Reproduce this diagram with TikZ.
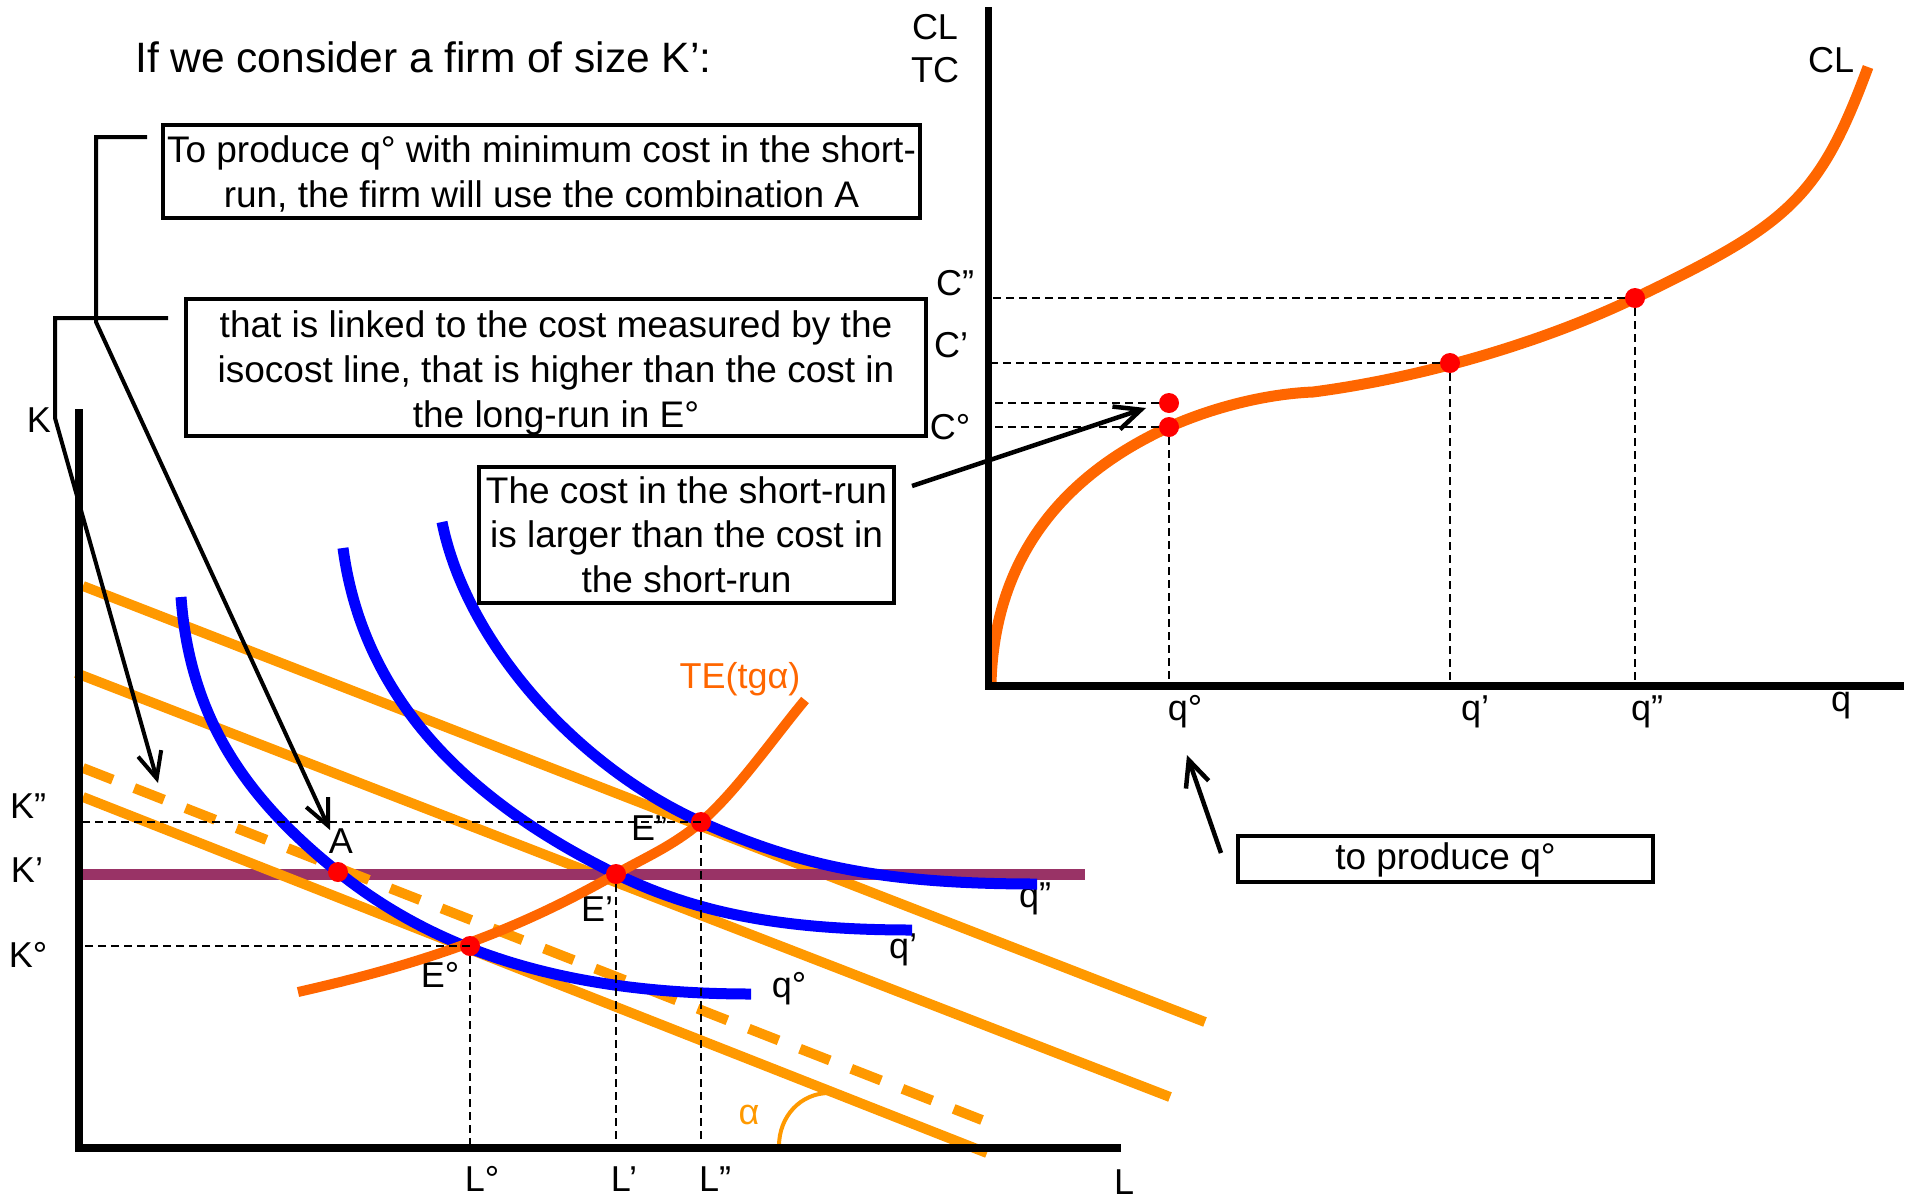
\documentclass[tikz,border=0pt]{standalone}
\usepackage{fontspec}
\setmainfont{Liberation Sans}
\usetikzlibrary{arrows.meta}
\definecolor{isoorange}{HTML}{FF9900}
\definecolor{teorange}{HTML}{FF6600}
\definecolor{isoblue}{HTML}{0000FF}
\definecolor{kpurple}{HTML}{993366}
\definecolor{dotred}{HTML}{FF0000}
\begin{document}
\begin{tikzpicture}[x=1pt,y=-1pt,
  lbl/.style={inner sep=0pt, font=\fontsize{36}{43}\selectfont},
  boxtxt/.style={inner sep=0pt, anchor=base, font=\fontsize{37}{45}\selectfont},
  textbox/.style={draw, line width=4.5pt, inner sep=0pt, rectangle},
  dot/.style={circle, fill=dotred, minimum size=20pt, inner sep=0pt},
  guide/.style={line width=2pt, dash pattern=on 8pt off 5pt},
  isocost/.style={line width=10pt, isoorange},
  isoquant/.style={line width=11pt, isoblue},
  axisline/.style={line width=8pt},
  ptr/.style={line width=4pt, -{Straight Barb[length=26pt,width=24pt]}},
  bracket/.style={line width=4pt}
]
\useasboundingbox (0,0) rectangle (1908,1202);

% ---------- coordinates of axes origins ----------
\coordinate (Lorig) at (79,1148);
\coordinate (Rorig) at (988,686);

% ---------- labels (under the curves) ----------
\node[inner sep=0pt, anchor=base west, font=\fontsize{42.5}{50}\selectfont] (title) at (135,72) {If we consider a firm of size K’:};
\node[lbl] (lK) at (39,420) {K};
\node[lbl] (lKpp) at (28,806) {K”};
\node[lbl] (lKp) at (27,870) {K’};
\node[lbl] (lK0) at (28,955) {K°};
\node[lbl] (lL0) at (482,1179) {L°};
\node[lbl] (lLp) at (624,1179) {L’};
\node[lbl] (lLpp) at (715,1179) {L”};
\node[lbl] (lL) at (1124,1182) {L};
\node[lbl] (lA) at (341,841) {A};
\node[lbl] (lE2) at (649,828) {E”};
\node[lbl] (lE1) at (597,909) {E’};
\node[lbl] (lE0) at (440,975) {E°};
\node[lbl] (lq0) at (789,989) {q°};
\node[lbl] (lq1) at (903,950) {q’};
\node[lbl] (lq2) at (1035,899) {q”};
\node[lbl, text=teorange] (lTE) at (740,679) {TE(tgα)};
\node[lbl, text=isoorange] (lalpha) at (749,1115) {α};

\node[lbl] (lCL) at (935,27) {CL};
\node[lbl] (lTC) at (935,70) {TC};
\node[lbl] (lCLc) at (1831,60) {CL};
\node[lbl] (lCpp) at (955,283) {C”};
\node[lbl] (lCp) at (951,345) {C’};
\node[lbl] (lC0) at (950,427) {C°};
\node[lbl] (lrq0) at (1185,712) {q°};
\node[lbl] (lrq1) at (1475,712) {q’};
\node[lbl] (lrq2) at (1647,712) {q”};
\node[lbl] (lrq) at (1841,706) {q};

% ---------- left graph: isocost lines ----------
\draw[isocost] (83,586) -- (1205,1022);
\draw[isocost] (76,673) -- (1170,1097);
\draw[line width=11pt, kpurple] (79,874) -- (1085,874);
\draw[isocost] (83,797) -- (987,1153);
\draw[isocost, dash pattern=on 32pt off 23pt] (83,768) -- (982,1120);
\draw[line width=4pt, isoorange] (779,1146) .. controls (779,1116) and (801,1093) .. (829,1093);

% ---------- isoquants ----------
\draw[isoquant] (181,597) .. controls (190,720) and (248,800) .. (338,872)
                .. controls (428,944) and (551,994) .. (751,994);
\draw[isoquant] (343,548) .. controls (363,698) and (466,800.5) .. (616,874)
                .. controls (696,913) and (782,930) .. (912,930);
\draw[isoquant] (442,522) .. controls (466,642) and (576,766) .. (701,822)
                .. controls (801,867) and (887,884) .. (1037,884);

% ---------- expansion path ----------
\draw[line width=10pt, teorange] (298,992) .. controls (408,967) and (506,937) .. (616,874)
      .. controls (644,858) and (673,846) .. (701,822)
      .. controls (736,792) and (775,736) .. (805,700);

% ---------- left axes ----------
\draw[axisline] (79,409) -- (79,1152);
\draw[axisline] (75,1148) -- (1121,1148);

% ---------- left points ----------
\node[dot] (dA) at (338,872) {};
\node[dot] (dE0) at (470,946) {};
\node[dot] (dE1) at (616,874) {};
\node[dot] (dE2) at (701,822) {};

\draw[guide] (dE2.center) -- (dE2.center -| Lorig);
\draw[guide] (dE0.center) -- (dE0.center -| Lorig);
\draw[guide] (dE0.south) -- (dE0.center |- Lorig);
\draw[guide] (dE1.south) -- (dE1.center |- Lorig);
\draw[guide] (dE2.south) -- (dE2.center |- Lorig);

% ---------- right graph ----------
\draw[line width=11pt, teorange] (991,683) .. controls (995,543) and (1079,468) .. (1169,427)
      .. controls (1209,409) and (1263,394) .. (1313,392)
      .. controls (1413,379) and (1535,346) .. (1635,298)
      .. controls (1787,225) and (1819,200) .. (1868,67);
\draw[line width=7pt] (988,7) -- (988,690);
\draw[axisline] (985,686) -- (1904,686);

\node[dot] (dC0s) at (1169,403) {};
\node[dot] (dC0) at (1169,427) {};
\node[dot] (dC1) at (1450,363) {};
\node[dot] (dC2) at (1635,298) {};

\draw[guide] (dC2.west) -- (dC2.center -| Rorig);
\draw[guide] (dC1.west) -- (dC1.center -| Rorig);
\draw[guide] (dC0s.west) -- (dC0s.center -| Rorig);
\draw[guide] (dC0.west) -- (dC0.center -| Rorig);
\draw[guide] (dC0.south) -- (dC0.center |- Rorig);
\draw[guide] (dC1.south) -- (dC1.center |- Rorig);
\draw[guide] (dC2.south) -- (dC2.center |- Rorig);

% ---------- text boxes ----------
\node[textbox, minimum width=757pt, minimum height=93pt] (b1) at (541.5,171.5) {};
\node[boxtxt] (b1l1) at (541.5,162) {To produce q° with minimum cost in the short-};
\node[boxtxt] (b1l2) at (541.5,207) {run, the firm will use the combination A};

\node[textbox, minimum width=740pt, minimum height=137pt] (b2) at (556,367.5) {};
\node[boxtxt] (b2l1) at (556,337) {that is linked to the cost measured by the};
\node[boxtxt] (b2l2) at (556,382) {isocost line, that is higher than the cost in};
\node[boxtxt] (b2l3) at (556,427) {the long-run in E°};

\node[textbox, minimum width=415pt, minimum height=136pt] (b3) at (686.5,535) {};
\node[boxtxt] (b3l1) at (686.5,503) {The cost in the short-run};
\node[boxtxt] (b3l2) at (686.5,547.5) {is larger than the cost in};
\node[boxtxt] (b3l3) at (686.5,592) {the short-run};

\node[textbox, minimum width=415pt, minimum height=46pt] (b4) at (1445.5,859) {};
\node[boxtxt] (b4l1) at (1445.5,869) {to produce q°};

% ---------- brackets and arrows ----------
\coordinate (c1a) at (147,137);
\coordinate (c1b) at (96,137);
\coordinate (c1c) at (96,322);
\coordinate (tipA) at (330,830);
\draw[ptr] (c1a) -- (c1b) -- (c1c) -- (tipA);

\coordinate (c2a) at (168,318);
\coordinate (c2b) at (55,318);
\coordinate (c2c) at (55,418);
\coordinate (tipD) at (158,783);
\draw[ptr] (c2a) -- (c2b) -- (c2c) -- (tipD);

\coordinate (b3out) at (912,486);
\coordinate (tipC) at (1146,408);
\draw[ptr, line width=4.5pt] (b3out) -- (tipC);

\coordinate (b4out) at (1221,853);
\coordinate (tipQ) at (1187,755);
\draw[ptr, line width=4.5pt] (b4out) -- (tipQ);
\end{tikzpicture}
\end{document}
